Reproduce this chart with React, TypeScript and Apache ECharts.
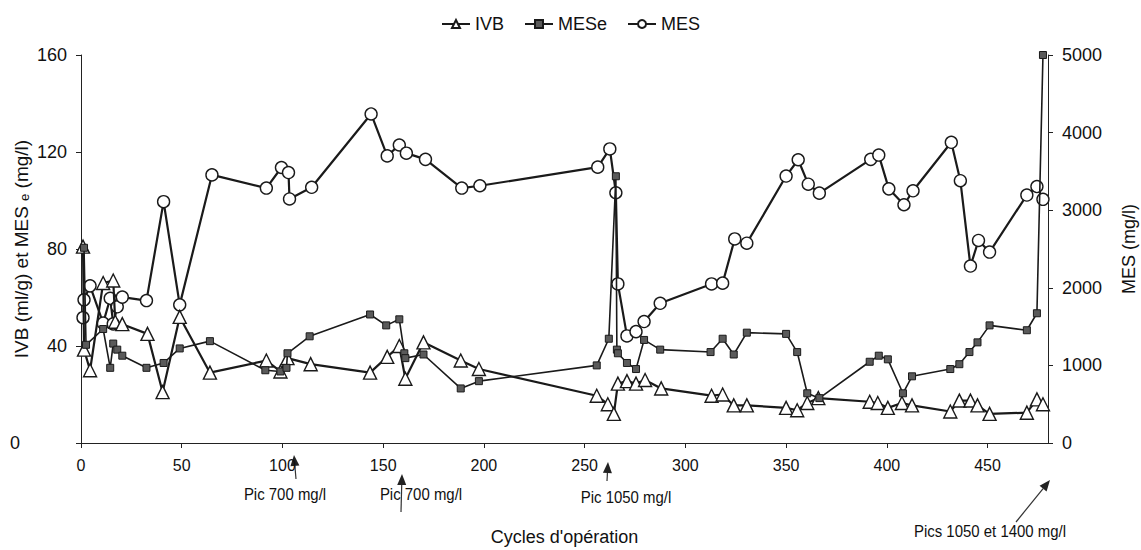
import React, { useEffect, useRef } from "react";
import * as echarts from "echarts";

const ivbX = [1, 1.5, 4.5, 11, 16, 17, 20.5, 33, 40.5, 49, 64, 92, 99, 102.5, 114, 143.5, 152, 158, 161, 170, 188.5, 197.5, 256, 261.5, 264.5, 266.5, 271, 275.5, 280, 288, 313, 318.5, 324, 330.5, 350, 355.5, 360.5, 366, 391.5, 395.5, 400.5, 407.5, 412.5, 431.5, 436, 441.5, 445, 451, 469.5, 474.5, 477.5];
const ivbY = [81, 38.5, 30, 66, 67, 50, 49, 45, 21, 52, 29, 34, 29.5, 35, 32.5, 29, 35.5, 40, 26.5, 41.5, 34, 30.5, 19.5, 16, 12, 24.5, 25.5, 24.5, 26, 22.5, 19.5, 20, 15.5, 15.5, 14.5, 13.5, 16.5, 18.5, 17, 16.5, 14.5, 16.5, 15.5, 13, 17.5, 17.5, 15.5, 12, 12.5, 18, 16];

const meseX = [1.5, 2.5, 11, 14.5, 16, 18, 20.5, 32.5, 41, 49, 64, 91.5, 99, 102, 102.5, 113.5, 143.5, 151.5, 158, 160.5, 161, 170, 188.5, 197.5, 256, 262, 265.5, 266, 266.5, 271, 275.5, 279.5, 287.5, 312.5, 318.5, 324, 330.5, 350, 355.5, 360.5, 366.5, 391.5, 396, 400.5, 408, 412.5, 431.5, 436, 441, 445, 451, 469.5, 474.5, 477.5];
const meseY = [80.5, 40.5, 47, 31, 41, 38.5, 36, 31, 33, 39, 42, 30, 29.5, 31, 37, 44, 53, 48.5, 51, 37, 35, 36.5, 22.5, 25.5, 32, 43, 110, 38.5, 37, 33, 30.5, 42.5, 38.5, 37.5, 43, 36.5, 45.5, 45, 37.5, 20.5, 18.5, 33.5, 36, 34.5, 20.5, 27.5, 30.5, 32.5, 37.5, 41.5, 48.5, 46.5, 53.5, 160];

const mesX = [1, 1.5, 4.5, 11, 14.5, 16, 18, 20.5, 32.5, 41, 49, 65, 92, 99.5, 103, 103.5, 114.5, 144, 152, 158, 161.5, 171, 189, 198, 256.5, 262.5, 265.5, 266.5, 271, 275.5, 279.5, 287.5, 313, 318.5, 324.5, 330.5, 350, 356, 361, 366.5, 392, 396, 401, 408.5, 413, 432, 436.5, 441.5, 445.5, 451, 469.5, 474.5, 477.5];
const mesY = [1615, 1845, 2025, 1545, 1865, 1535, 1755, 1880, 1835, 3110, 1780, 3455, 3285, 3550, 3485, 3145, 3295, 4240, 3700, 3840, 3735, 3655, 3285, 3315, 3555, 3790, 3225, 2050, 1380, 1435, 1565, 1800, 2050, 2060, 2630, 2575, 3440, 3650, 3335, 3220, 3655, 3710, 3275, 3070, 3250, 3875, 3380, 2280, 2610, 2460, 3195, 3305, 3140];

const seriesNames = ["IVB", "MESe", "MES"];
const xAxisTitle = "Cycles d'opération";
const leftAxisTitle = "IVB (ml/g) et MES {sub|e} (mg/l)";
const rightAxisTitle = "MES (mg/l)";
const annotations = ["Pic 700 mg/l", "Pic 700 mg/l", "Pic 1050 mg/l", "Pics 1050 et 1400 mg/l"];

const FONT = "Liberation Sans, Arial, sans-serif";
const INK = "#1a1a1a";

function pairs(xs: number[], ys: number[]) {
  return xs.map((x, i) => [x, ys[i]]);
}

function arrow(tip: [number, number], tail: [number, number]) {
  const dx = tip[0] - tail[0];
  const dy = tip[1] - tail[1];
  const len = Math.sqrt(dx * dx + dy * dy);
  const ux = dx / len;
  const uy = dy / len;
  const hl = 11;
  const hw = 4.5;
  const bx = tip[0] - ux * hl;
  const by = tip[1] - uy * hl;
  return [
    {
      type: "line",
      shape: { x1: tail[0], y1: tail[1], x2: bx, y2: by },
      style: { stroke: "#333", lineWidth: 1.2 },
    },
    {
      type: "polygon",
      shape: {
        points: [
          [tip[0], tip[1]],
          [bx - uy * hw, by + ux * hw],
          [bx + uy * hw, by - ux * hw],
        ],
      },
      style: { fill: "#222" },
    },
  ];
}

export default function App() {
  const ref = useRef<HTMLDivElement>(null);
  useEffect(() => {
    if (!ref.current) return;
    const chart = echarts.init(ref.current, undefined, { renderer: "svg" });
    const annText = (text: string, x: number, y: number) => ({
      type: "text",
      x,
      y,
      scaleX: 0.88,
      style: {
        text,
        fill: "#111",
        font: `17px ${FONT}`,
        align: "center",
        verticalAlign: "middle",
      },
    });
    chart.setOption({
      animation: false,
      backgroundColor: "#fff",
      textStyle: { fontFamily: FONT },
      legend: {
        top: 10,
        left: "center",
        itemWidth: 28,
        itemHeight: 10,
        itemGap: 20,
        textStyle: { fontSize: 18, color: "#111", fontFamily: FONT },
        data: seriesNames,
      },
      grid: { left: 81, right: 93, top: 55, bottom: 107, outerBoundsMode: "none", containLabel: false },
      xAxis: {
        type: "value",
        min: 0,
        max: 480,
        interval: 50,
        name: xAxisTitle,
        nameLocation: "middle",
        nameGap: 85,
        nameMoveOverlap: false,
        nameTextStyle: { fontSize: 18, color: "#111", fontFamily: FONT },
        axisLine: { show: true, lineStyle: { color: "#222", width: 1 } },
        axisTick: { show: true, length: 5, inside: false, lineStyle: { color: "#222" } },
        axisLabel: { fontSize: 16, color: "#111", margin: 14, showMaxLabel: false, fontFamily: FONT },
        splitLine: { show: false },
      },
      yAxis: [
        {
          type: "value",
          min: 0,
          max: 160,
          interval: 40,
          name: leftAxisTitle,
          nameLocation: "middle",
          nameGap: 50,
          nameMoveOverlap: false,
          nameTextStyle: {
            fontSize: 19,
            color: "#111",
            fontFamily: FONT,
            rich: { sub: { fontSize: 13, color: "#111", fontFamily: FONT, padding: [6, 0, 0, 0] } },
          },
          axisLine: { show: true, lineStyle: { color: "#222", width: 1 } },
          axisTick: { show: true, length: 5, lineStyle: { color: "#222" } },
          axisLabel: {
            fontSize: 18,
            color: "#111",
            margin: 14,
            fontFamily: FONT,
            formatter: (v: number) => (v === 0 ? "{z|0}" : String(v)),
            rich: { z: { fontSize: 18, color: "#111", fontFamily: FONT, padding: [0, 47, 0, 0] } },
          },
          splitLine: { show: false },
        },
        {
          type: "value",
          min: 0,
          max: 5000,
          interval: 1000,
          position: "right",
          name: rightAxisTitle,
          nameLocation: "middle",
          nameGap: 72,
          nameRotate: 90,
          nameMoveOverlap: false,
          nameTextStyle: { fontSize: 18, color: "#111", fontFamily: FONT },
          axisLine: { show: true, lineStyle: { color: "#222", width: 1 } },
          axisTick: { show: true, length: 5, lineStyle: { color: "#222" } },
          axisLabel: {
            fontSize: 18,
            color: "#111",
            margin: 14,
            fontFamily: FONT,
            formatter: (v: number) => String(v),
          },
          splitLine: { show: false },
        },
      ],
      series: [
        {
          name: seriesNames[0],
          type: "line",
          yAxisIndex: 0,
          data: pairs(ivbX, ivbY),
          symbol: "triangle",
          symbolSize: 13,
          lineStyle: { color: INK, width: 2.2 },
          itemStyle: { color: "#fff", borderColor: INK, borderWidth: 1.4 },
          z: 3,
        },
        {
          name: seriesNames[1],
          type: "line",
          yAxisIndex: 0,
          data: pairs(meseX, meseY),
          symbol: "rect",
          symbolSize: 7,
          lineStyle: { color: INK, width: 1.6 },
          itemStyle: { color: "#5a5a5a", borderColor: INK, borderWidth: 1 },
          z: 4,
        },
        {
          name: seriesNames[2],
          type: "line",
          yAxisIndex: 1,
          data: pairs(mesX, mesY),
          symbol: "circle",
          symbolSize: 12,
          lineStyle: { color: INK, width: 2.2 },
          itemStyle: { color: "#fff", borderColor: INK, borderWidth: 1.4 },
          z: 2,
        },
      ],
      graphic: [
        ...arrow([294, 455], [296, 479]),
        ...arrow([402, 474], [401, 512]),
        ...arrow([608, 462], [607, 481]),
        ...arrow([1050, 480], [1016, 522]),
        annText(annotations[0], 285, 494),
        annText(annotations[1], 421, 494),
        annText(annotations[2], 626, 497),
        annText(annotations[3], 990, 531),
      ],
    });
    return () => chart.dispose();
  }, []);
  return (
    <div
      ref={ref}
      style={{ position: "fixed", left: 0, top: 0, width: 1141, height: 550, background: "#fff" }}
    />
  );
}
